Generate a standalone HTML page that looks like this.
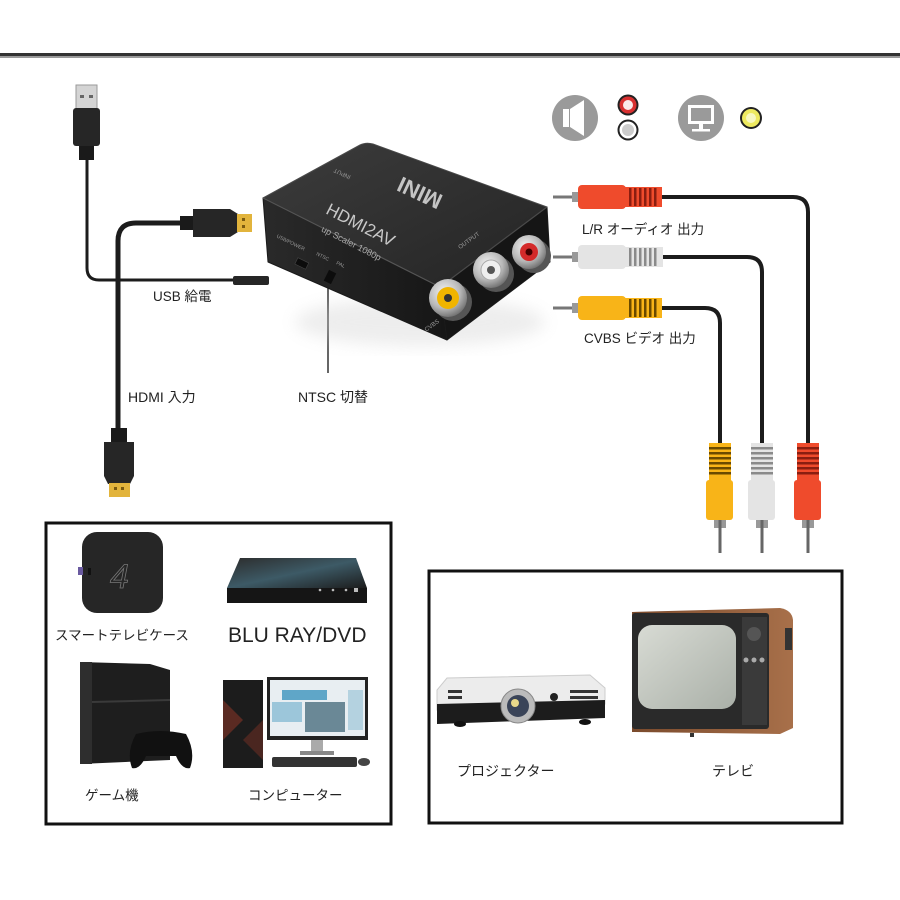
<!DOCTYPE html>
<html><head><meta charset="utf-8"><style>
html,body{margin:0;padding:0;background:#fff;}
svg{display:block}
text{font-family:"Liberation Sans","Noto Sans CJK JP",sans-serif;}
</style></head><body>
<svg width="900" height="900" viewBox="0 0 900 900" xmlns="http://www.w3.org/2000/svg">
<defs>
 <linearGradient id="topg" x1="0" y1="0" x2="1" y2="1">
  <stop offset="0" stop-color="#3c3c3c"/><stop offset="1" stop-color="#242424"/>
 </linearGradient>
 <linearGradient id="leftg" x1="0" y1="0" x2="1" y2="0">
  <stop offset="0" stop-color="#2a2a2a"/><stop offset="1" stop-color="#161616"/>
 </linearGradient>
 <radialGradient id="silver" cx="0.4" cy="0.35" r="0.7">
  <stop offset="0" stop-color="#f4f4f4"/><stop offset="0.6" stop-color="#b8b8b8"/><stop offset="1" stop-color="#6a6a6a"/>
 </radialGradient>
 <linearGradient id="bluray" x1="0" y1="0" x2="1" y2="1">
  <stop offset="0" stop-color="#2c2c2c"/><stop offset="0.5" stop-color="#3d5a66"/><stop offset="1" stop-color="#1c1c1c"/>
 </linearGradient>
 <linearGradient id="screen" x1="0" y1="0" x2="1" y2="1">
  <stop offset="0" stop-color="#d8dbd4"/><stop offset="1" stop-color="#aab0a8"/>
 </linearGradient>
 <linearGradient id="wood" x1="0" y1="0" x2="1" y2="0">
  <stop offset="0" stop-color="#7a4a2c"/><stop offset="1" stop-color="#a8704a"/>
 </linearGradient>
 <filter id="blur" x="-20%" y="-20%" width="140%" height="140%"><feGaussianBlur stdDeviation="8"/></filter>
</defs>
<rect width="900" height="900" fill="#fff"/>
<rect x="0" y="53" width="900" height="3" fill="#333"/>
<rect x="0" y="56" width="900" height="2" fill="#9a9a9a"/>

<!-- USB cable -->
<path d="M87 158 V268 Q87 280 99 280 H236" fill="none" stroke="#1c1c1c" stroke-width="3"/>
<rect x="76" y="85" width="21" height="24" fill="#d4d4d4" stroke="#9a9a9a"/>
<rect x="80" y="95" width="4" height="3" fill="#666"/><rect x="89" y="95" width="4" height="3" fill="#666"/>
<rect x="73" y="108" width="27" height="38" rx="3" fill="#262626"/>
<rect x="79" y="146" width="15" height="14" fill="#1a1a1a"/>
<rect x="233" y="276" width="36" height="9" rx="2" fill="#262626"/>

<!-- HDMI cable -->
<path d="M185 223 H136 Q118 223 118 241 V432" fill="none" stroke="#1c1c1c" stroke-width="5"/>
<rect x="180" y="216" width="14" height="14" fill="#1a1a1a"/>
<path d="M193 209 H230 L238 214 V232 L230 237 H193 Z" fill="#262626"/>
<rect x="237" y="214" width="15" height="18" fill="#e2b43c"/>
<rect x="242" y="218" width="3" height="3" fill="#7a5a10"/><rect x="242" y="225" width="3" height="3" fill="#7a5a10"/>

<rect x="111" y="428" width="16" height="14" fill="#1a1a1a"/>
<path d="M104 442 H134 V476 L130 484 H108 L104 476 Z" fill="#262626"/>
<rect x="109" y="483" width="21" height="14" fill="#e2b43c"/>
<rect x="114" y="487" width="3" height="3" fill="#7a5a10"/><rect x="121" y="487" width="3" height="3" fill="#7a5a10"/>

<!-- labels -->
<text x="153" y="301" font-size="13.5" fill="#222">USB 給電</text>
<text x="128" y="402" font-size="14" fill="#222">HDMI 入力</text>
<text x="298" y="402" font-size="14" fill="#222">NTSC 切替</text>
<line x1="328" y1="285" x2="328" y2="373" stroke="#333" stroke-width="1.5"/>

<!-- device shadow -->
<ellipse cx="420" cy="322" rx="125" ry="24" fill="#ccc" opacity="0.35" filter="url(#blur)"/>
<!-- device -->
<path d="M263 198 L360 145 Q366 142 373 144 L547 207 L440 287 Z" fill="url(#topg)" stroke="#4a4a4a" stroke-width="1" stroke-linejoin="round"/>
<path d="M263 198 L440 287 L447 340 L268 262 Z" fill="url(#leftg)" stroke="#1a1a1a" stroke-width="1" stroke-linejoin="round"/>
<path d="M440 287 L547 207 L550 262 L447 340 Z" fill="#151515" stroke="#1a1a1a" stroke-width="1" stroke-linejoin="round"/>
<line x1="263" y1="198" x2="440" y2="287" stroke="#555" stroke-width="1.2"/>
<line x1="440" y1="287" x2="547" y2="207" stroke="#4a4a4a" stroke-width="1.2"/>

<text transform="translate(423,186) rotate(205)" font-size="22" font-weight="bold" fill="#c4c4c4" text-anchor="middle">MINI</text>
<text transform="translate(358,230) rotate(27)" font-size="17" fill="#c8c8c8" text-anchor="middle">HDMI2AV</text>
<text transform="translate(350,246) rotate(27)" font-size="9" fill="#aaa" text-anchor="middle">up Scaler 1080p</text>
<text transform="translate(343,172) rotate(205)" font-size="6" fill="#999" text-anchor="middle">INPUT</text>
<text transform="translate(470,242) rotate(-36)" font-size="6" fill="#999" text-anchor="middle">OUTPUT</text>
<text transform="translate(290,244) rotate(26)" font-size="5" fill="#999" text-anchor="middle">USB/POWER</text>
<text transform="translate(322,258) rotate(26)" font-size="5" fill="#999" text-anchor="middle">NTSC</text>
<text transform="translate(340,266) rotate(26)" font-size="5" fill="#999" text-anchor="middle">PAL</text>
<text transform="translate(433,327) rotate(-36)" font-size="6" fill="#999" text-anchor="middle">CVBS</text>
<rect x="296" y="260" width="12" height="7" fill="#0c0c0c" stroke="#444" stroke-width="0.6" transform="rotate(26 302 263)"/>
<rect x="326" y="271" width="8" height="12" fill="#0c0c0c" transform="rotate(26 330 277)"/>

<!-- jacks -->
<circle cx="453" cy="302" r="19" fill="#555"/>
<circle cx="448" cy="298" r="19" fill="url(#silver)"/>
<circle cx="448" cy="298" r="11" fill="#f0b400"/>
<circle cx="448" cy="298" r="4" fill="#333"/>
<circle cx="496" cy="274" r="18" fill="#555"/>
<circle cx="491" cy="270" r="18" fill="url(#silver)"/>
<circle cx="491" cy="270" r="10" fill="#eee" stroke="#aaa"/>
<circle cx="491" cy="270" r="4" fill="#555"/>
<circle cx="534" cy="256" r="17" fill="#555"/>
<circle cx="529" cy="252" r="17" fill="url(#silver)"/>
<circle cx="529" cy="252" r="9" fill="#d42a2a"/>
<circle cx="529" cy="252" r="3.5" fill="#400"/>

<!-- icons -->
<circle cx="575" cy="118" r="23" fill="#9a9a9a"/>
<rect x="563" y="109" width="6" height="18" fill="#fff"/>
<path d="M570 109 L584 100 V136 L570 127 Z" fill="#fff"/>
<circle cx="628" cy="105" r="10.5" fill="#222"/>
<circle cx="628" cy="105" r="8.5" fill="#d83030"/>
<circle cx="628" cy="105" r="5" fill="#fbeaea"/>
<circle cx="628" cy="130" r="10.5" fill="#222"/>
<circle cx="628" cy="130" r="8.5" fill="#fff"/>
<circle cx="628" cy="130" r="6" fill="#ccc"/>
<circle cx="701" cy="118" r="23" fill="#9a9a9a"/>
<rect x="688" y="105" width="26" height="19" fill="#fff"/>
<rect x="691" y="108" width="20" height="13" fill="#9a9a9a"/>
<rect x="699" y="124" width="4" height="5" fill="#fff"/>
<rect x="692" y="129" width="18" height="2.5" fill="#fff"/>
<circle cx="751" cy="118" r="11" fill="#222"/>
<circle cx="751" cy="118" r="9" fill="#eeea60"/>
<circle cx="751" cy="118" r="5" fill="#f8f8c0"/>

<!-- cables right -->
<path d="M660 197 H793 Q808 197 808 212 V446" fill="none" stroke="#1c1c1c" stroke-width="4"/>
<path d="M660 257 H747 Q762 257 762 272 V446" fill="none" stroke="#1c1c1c" stroke-width="4"/>
<path d="M660 308 H705 Q720 308 720 323 V446" fill="none" stroke="#1c1c1c" stroke-width="4"/>

<!-- horizontal plugs -->
<g>
 <rect x="553" y="195.5" width="25" height="3" fill="#777"/>
 <rect x="572" y="192" width="6" height="10" fill="#999"/>
 <rect x="578" y="185" width="48" height="24" rx="4" fill="#ef4b2c"/>
 <rect x="625" y="187" width="37" height="20" fill="#ef4b2c"/>
 <g fill="#8a1e10"><rect x="629" y="188" width="2.5" height="18"/><rect x="634" y="188" width="2.5" height="18"/><rect x="639" y="188" width="2.5" height="18"/><rect x="644" y="188" width="2.5" height="18"/><rect x="649" y="188" width="2.5" height="18"/><rect x="654" y="188" width="2.5" height="18"/></g>
</g>
<g>
 <rect x="553" y="255.5" width="25" height="3" fill="#777"/>
 <rect x="572" y="252" width="6" height="10" fill="#999"/>
 <rect x="578" y="245" width="48" height="24" rx="4" fill="#e4e4e4"/>
 <rect x="625" y="247" width="38" height="20" fill="#e4e4e4"/>
 <g fill="#8a8a8a"><rect x="629" y="248" width="2.5" height="18"/><rect x="634" y="248" width="2.5" height="18"/><rect x="639" y="248" width="2.5" height="18"/><rect x="644" y="248" width="2.5" height="18"/><rect x="649" y="248" width="2.5" height="18"/><rect x="654" y="248" width="2.5" height="18"/></g>
</g>
<g>
 <rect x="553" y="306.5" width="25" height="3" fill="#777"/>
 <rect x="572" y="303" width="6" height="10" fill="#999"/>
 <rect x="578" y="296" width="48" height="24" rx="4" fill="#f8b418"/>
 <rect x="625" y="298" width="37" height="20" fill="#f8b418"/>
 <g fill="#6a4a00"><rect x="629" y="299" width="2.5" height="18"/><rect x="634" y="299" width="2.5" height="18"/><rect x="639" y="299" width="2.5" height="18"/><rect x="644" y="299" width="2.5" height="18"/><rect x="649" y="299" width="2.5" height="18"/><rect x="654" y="299" width="2.5" height="18"/></g>
</g>

<text x="582" y="234" font-size="13.5" fill="#222">L/R オーディオ 出力</text>
<text x="584" y="343" font-size="13.5" fill="#222">CVBS ビデオ 出力</text>

<!-- vertical plugs -->
<g>
 <rect x="709" y="443" width="22" height="38" fill="#f8b418"/>
 <g fill="#6a4a00"><rect x="709" y="447" width="22" height="2.5"/><rect x="709" y="452" width="22" height="2.5"/><rect x="709" y="457" width="22" height="2.5"/><rect x="709" y="462" width="22" height="2.5"/><rect x="709" y="467" width="22" height="2.5"/><rect x="709" y="472" width="22" height="2.5"/></g>
 <rect x="706" y="480" width="27" height="40" rx="3" fill="#f8b418"/>
 <rect x="714" y="520" width="12" height="8" fill="#999"/>
 <rect x="718.5" y="520" width="3" height="33" fill="#666"/>
</g>
<g>
 <rect x="751" y="443" width="22" height="38" fill="#e4e4e4"/>
 <g fill="#8a8a8a"><rect x="751" y="447" width="22" height="2.5"/><rect x="751" y="452" width="22" height="2.5"/><rect x="751" y="457" width="22" height="2.5"/><rect x="751" y="462" width="22" height="2.5"/><rect x="751" y="467" width="22" height="2.5"/><rect x="751" y="472" width="22" height="2.5"/></g>
 <rect x="748" y="480" width="27" height="40" rx="3" fill="#e4e4e4"/>
 <rect x="756" y="520" width="12" height="8" fill="#999"/>
 <rect x="760.5" y="520" width="3" height="33" fill="#666"/>
</g>
<g>
 <rect x="797" y="443" width="22" height="38" fill="#ef4b2c"/>
 <g fill="#8a1e10"><rect x="797" y="447" width="22" height="2.5"/><rect x="797" y="452" width="22" height="2.5"/><rect x="797" y="457" width="22" height="2.5"/><rect x="797" y="462" width="22" height="2.5"/><rect x="797" y="467" width="22" height="2.5"/><rect x="797" y="472" width="22" height="2.5"/></g>
 <rect x="794" y="480" width="27" height="40" rx="3" fill="#ef4b2c"/>
 <rect x="802" y="520" width="12" height="8" fill="#999"/>
 <rect x="806.5" y="520" width="3" height="33" fill="#666"/>
</g>

<!-- bottom-left box -->
<rect x="46" y="523" width="345" height="301" fill="none" stroke="#111" stroke-width="3"/>
<!-- smart tv box -->
<rect x="82" y="532" width="81" height="81" rx="15" fill="#262626"/>
<rect x="78" y="567" width="5" height="8" fill="#6a5aa0"/>
<rect x="88" y="568" width="3" height="7" fill="#111"/>
<text x="110" y="588" font-size="34" fill="none" stroke="#777" stroke-width="0.8" font-style="italic">4</text>
<text x="55" y="640" font-size="13.5" fill="#222">スマートテレビケース</text>
<!-- blu-ray -->
<path d="M240 558 L356 558 L367 588 L227 588 Z" fill="url(#bluray)"/>
<rect x="227" y="588" width="140" height="15" fill="#151515"/>
<g fill="#bbb"><circle cx="320" cy="590" r="1.3"/><circle cx="333" cy="590" r="1.3"/><circle cx="346" cy="590" r="1.3"/><rect x="354" y="588" width="4" height="4"/></g>
<text x="228" y="642" font-size="21" fill="#222">BLU RAY/DVD</text>
<!-- ps4 -->
<path d="M80 662 L150 664 L170 670 V760 L80 764 Z" fill="#1e1e1e"/>
<rect x="80" y="662" width="12" height="102" fill="#2e2e2e"/>
<line x1="92" y1="702" x2="170" y2="700" stroke="#3a3a3a" stroke-width="2"/>
<path d="M136 734 Q160 728 186 734 Q196 752 190 768 Q182 770 176 756 H146 Q140 770 132 768 Q126 752 136 734 Z" fill="#111"/>
<text x="85" y="800" font-size="13.5" fill="#222">ゲーム機</text>
<!-- computer -->
<rect x="223" y="680" width="40" height="88" fill="#1c1c1c"/>
<path d="M223 700 L243 720 L223 740 Z" fill="#5a2a22"/>
<path d="M263 720 L243 740 L263 760 Z" fill="#4a2620"/>
<rect x="267" y="677" width="101" height="63" fill="#222"/>
<rect x="270" y="680" width="95" height="56" fill="#e8eef2"/>
<rect x="282" y="690" width="45" height="10" fill="#5fa6c8"/>
<rect x="272" y="702" width="30" height="20" fill="#9cc6da"/>
<rect x="305" y="702" width="40" height="30" fill="#6a8896"/>
<rect x="348" y="690" width="15" height="40" fill="#b4d2e0"/>
<rect x="311" y="740" width="12" height="12" fill="#aaa"/>
<rect x="300" y="751" width="34" height="4" fill="#888"/>
<rect x="272" y="757" width="85" height="10" rx="2" fill="#333"/>
<ellipse cx="364" cy="762" rx="6" ry="4" fill="#444"/>
<text x="248" y="800" font-size="13.5" fill="#222">コンピューター</text>

<!-- bottom-right box -->
<rect x="429" y="571" width="413" height="252" fill="none" stroke="#111" stroke-width="3"/>
<!-- projector -->
<path d="M447 678 L590 675 L605 688 V704 L437 710 V690 Z" fill="#ececec" stroke="#ccc"/>
<path d="M437 704 L605 700 V718 L437 724 Z" fill="#1c1c1c"/>
<g fill="#333"><rect x="448" y="690" width="14" height="3"/><rect x="448" y="696" width="14" height="3"/><rect x="570" y="690" width="28" height="3"/><rect x="570" y="696" width="28" height="3"/></g>
<circle cx="518" cy="706" r="17" fill="#bbb" stroke="#888"/>
<circle cx="518" cy="706" r="11" fill="#3a4458"/>
<circle cx="515" cy="703" r="4" fill="#e8d88a"/>
<circle cx="554" cy="697" r="4" fill="#222"/>
<ellipse cx="460" cy="724" rx="6" ry="3" fill="#111"/><ellipse cx="585" cy="722" rx="6" ry="3" fill="#111"/>
<!-- tv -->
<path d="M632 612 L780 608 Q792 610 793 620 V728 L780 734 L632 732 Z" fill="url(#wood)"/>
<rect x="632" y="613" width="137" height="116" rx="3" fill="#2a2a2a"/>
<rect x="638" y="625" width="98" height="84" rx="14" fill="url(#screen)"/>
<rect x="742" y="617" width="25" height="108" fill="#3a3a3a"/>
<circle cx="754" cy="634" r="7" fill="#555"/>
<g fill="#aaa"><circle cx="746" cy="660" r="2.5"/><circle cx="754" cy="660" r="2.5"/><circle cx="762" cy="660" r="2.5"/></g>
<rect x="785" y="628" width="7" height="22" fill="#333"/>
<rect x="690" y="733" width="4" height="4" fill="#333"/>
<text x="457" y="776" font-size="14" fill="#222">プロジェクター</text>
<text x="712" y="776" font-size="14" fill="#222">テレビ</text>
</svg>
</body></html>
